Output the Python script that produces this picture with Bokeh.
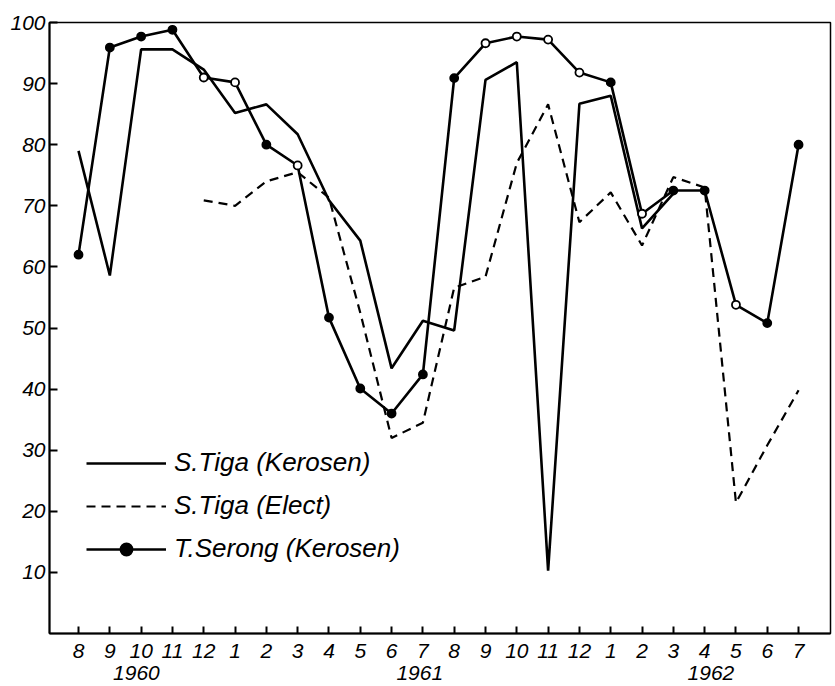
import numpy as np
from bokeh.plotting import figure
from bokeh.models import (Range1d, LinearAxis, FixedTicker, Legend, LegendItem, ColumnDataSource)
from bokeh.embed import file_html
from bokeh.resources import INLINE

nan = np.nan

# ---- data ----
months = ["8", "9", "10", "11", "12", "1", "2", "3", "4", "5", "6", "7",
          "8", "9", "10", "11", "12", "1", "2", "3", "4", "5", "6", "7"]
x_idx = list(range(len(months)))
years = ["1960", "1961", "1962"]
year_pos = [1.85, 10.9, 20.2]

tiga_kerosen = [79, 58.6, 95.6, 95.6, 92.3, 85.2, 86.6, 81.7, 70.9, 64.3, 43.4, 51.2,
                49.6, 90.6, 93.5, 10.3, 86.7, 88.0, 66.3, 72.0, nan, nan, nan, nan]
tiga_elect = [nan, nan, nan, nan, 70.9, 70.0, 74.0, 75.5, 71.3, 52.5, 32.0, 34.5,
              56.6, 58.4, 77.0, 86.6, 67.3, 72.2, 63.5, 74.7, 73.0, 21.4, 30.8, 39.8]
serong = [62, 95.9, 97.7, 98.8, 91.0, 90.2, 80.0, 76.6, 51.7, 40.1, 36.0, 42.4,
          90.9, 96.6, 97.7, 97.2, 91.8, 90.2, 68.7, 72.5, 72.5, 53.8, 50.8, 80.0]
serong_filled = [1, 1, 1, 1, 0, 0, 1, 0, 1, 1, 1, 1, 1, 0, 0, 0, 0, 1, 0, 1, 1, 0, 1, 1]

y_ticks = [10, 20, 30, 40, 50, 60, 70, 80, 90, 100]

FONT = "Liberation Sans"

p = figure(frame_width=781, frame_height=611,
           x_range=Range1d(-0.927, 24.02), y_range=Range1d(0, 100),
           output_backend="svg", toolbar_location=None,
           min_border_left=49, min_border_right=4, min_border_top=22, min_border_bottom=0,
           background_fill_color="white", border_fill_color="white")
p.grid.visible = False
p.outline_line_color = "black"
p.outline_line_width = 1.5

# axes
xa = p.xaxis[0]
xa.ticker = FixedTicker(ticks=x_idx)
xa.major_label_overrides = {i: m for i, m in zip(x_idx, months)}
xa.major_tick_in = 7
xa.major_tick_out = 0
xa.minor_tick_line_color = None
xa.axis_line_width = 2
xa.major_tick_line_width = 2
xa.major_label_text_font = FONT
xa.major_label_text_font_style = "italic"
xa.major_label_text_font_size = "21px"
xa.major_label_text_color = "black"
xa.major_label_standoff = 10

ya = p.yaxis[0]
ya.ticker = FixedTicker(ticks=y_ticks)
ya.major_tick_in = 8
ya.major_tick_out = 0
ya.minor_tick_line_color = None
ya.axis_line_width = 2
ya.major_tick_line_width = 2
ya.major_label_text_font = FONT
ya.major_label_text_font_style = "italic"
ya.major_label_text_font_size = "21px"
ya.major_label_text_color = "black"
ya.major_label_standoff = 4

year_axis = LinearAxis(ticker=FixedTicker(ticks=year_pos),
                       major_label_overrides={v: y for v, y in zip(year_pos, years)})
year_axis.axis_line_color = None
year_axis.major_tick_line_color = None
year_axis.minor_tick_line_color = None
year_axis.major_tick_in = 0
year_axis.major_tick_out = 0
year_axis.major_label_standoff = 5
year_axis.major_label_text_font = FONT
year_axis.major_label_text_font_style = "italic"
year_axis.major_label_text_font_size = "21px"
year_axis.major_label_text_color = "black"
p.add_layout(year_axis, "below")

# series
r1 = p.line(x_idx, tiga_kerosen, line_color="black", line_width=2.6)
r2 = p.line(x_idx, tiga_elect, line_color="black", line_width=2.2, line_dash="9 6")
r3 = p.line(x_idx, serong, line_color="black", line_width=2.6)
src = ColumnDataSource(dict(x=x_idx, y=serong,
                            fill=["black" if f else "white" for f in serong_filled]))
r3m = p.scatter("x", "y", source=src, size=8, fill_color="fill",
                line_color="black", line_width=1.8)

legend = Legend(items=[
    LegendItem(label="S.Tiga (Kerosen)", renderers=[r1]),
    LegendItem(label="S.Tiga (Elect)", renderers=[r2]),
    LegendItem(label="T.Serong (Kerosen)", renderers=[r3, r3m]),
], location=(37, 69))
legend.glyph_width = 80
legend.glyph_height = 30
legend.label_height = 30
legend.spacing = 12
legend.padding = 0
legend.margin = 0
legend.label_standoff = 8
legend.background_fill_alpha = 0
legend.border_line_color = None
legend.label_text_font = FONT
legend.label_text_font_style = "italic"
legend.label_text_font_size = "26px"
legend.label_text_color = "black"
p.add_layout(legend, "center")

open("out.html", "w").write(file_html(p, INLINE))
